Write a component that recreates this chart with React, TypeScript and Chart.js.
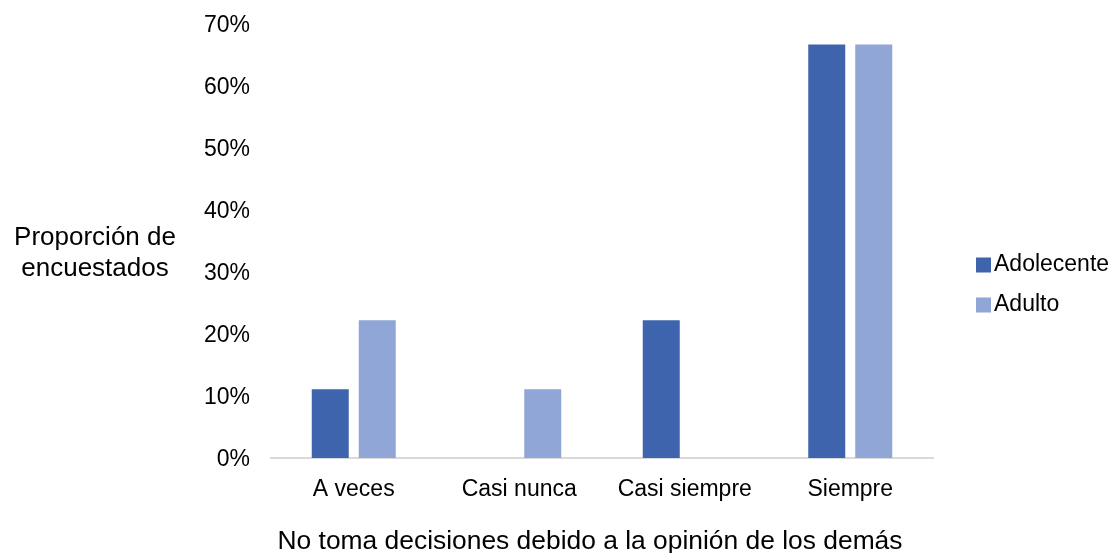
import React, { useEffect, useRef } from "react";
import { Chart, registerables } from "chart.js";

Chart.register(...registerables);

const categories = ["A veces", "Casi nunca", "Casi siempre", "Siempre"];
const seriesNames = ["Adolecente", "Adulto"];
const adolescenteValues = [11.1, 0, 22.2, 66.7];
const adultoValues = [22.2, 11.1, 0, 66.7];
const seriesColors = ["#3D64AD", "#8FA6D6"];
const yTitleLines = ["Proporción de", "encuestados"];
const xTitle = "No toma decisiones debido a la opinión de los demás";
const yMax = 70;
const yStep = 10;

const FONT = "'Liberation Sans', Arial, sans-serif";

const overlayPlugin = {
  id: "overlay",
  afterDraw(chart: any) {
    const ctx = chart.ctx;
    ctx.save();
    ctx.fillStyle = "#000000";
    // y title (horizontal, two lines)
    ctx.font = `26px ${FONT}`;
    ctx.textAlign = "center";
    ctx.textBaseline = "middle";
    yTitleLines.forEach((line, i) => {
      ctx.fillText(line, 95, 238 + i * 31);
    });
    // x title
    ctx.font = `26.4px ${FONT}`;
    ctx.fillText(xTitle, 590, 542);
    // legend
    ctx.font = `23px ${FONT}`;
    ctx.textAlign = "left";
    chart.data.datasets.forEach((ds: any, i: number) => {
      const cy = 265 + i * 40;
      ctx.fillStyle = ds.backgroundColor;
      ctx.fillRect(976, cy - 7.5, 15, 15);
      ctx.fillStyle = "#000000";
      ctx.fillText(ds.label, 994, cy);
    });
    ctx.restore();
  },
};

export default function App() {
  const canvasRef = useRef<HTMLCanvasElement | null>(null);

  useEffect(() => {
    if (!canvasRef.current) return;
    const chart = new Chart(canvasRef.current, {
      type: "bar",
      data: {
        labels: categories,
        datasets: [
          {
            label: seriesNames[0],
            data: adolescenteValues,
            backgroundColor: seriesColors[0],
          },
          {
            label: seriesNames[1],
            data: adultoValues,
            backgroundColor: seriesColors[1],
          },
        ],
      },
      options: {
        animation: false,
        responsive: true,
        maintainAspectRatio: false,
        layout: { autoPadding: false, padding: { left: 0, right: 181, top: 24, bottom: 0 } },
        datasets: {
          bar: { categoryPercentage: 0.568, barPercentage: 0.787 },
        },
        plugins: {
          legend: { display: false },
          tooltip: { enabled: false },
          title: { display: false },
        },
        scales: {
          x: {
            grid: { display: false, drawTicks: false },
            border: { display: true, color: "#D9D9D9", width: 2 },
            ticks: {
              color: "#000000",
              font: { family: FONT, size: 23 },
              padding: 18,
              maxRotation: 0,
            },
            afterFit(scale: any) {
              scale.height = 95;
              scale.paddingLeft = 0;
              scale.paddingRight = 0;
            },
          },
          y: {
            min: 0,
            max: yMax,
            grid: { display: false, drawTicks: false },
            border: { display: false },
            ticks: {
              stepSize: yStep,
              color: "#000000",
              font: { family: FONT, size: 23 },
              padding: 21,
              labelOffset: 2,
              callback: (v: any) => `${v}%`,
            },
            afterFit(scale: any) {
              scale.width = 271;
              scale.paddingTop = 0;
              scale.paddingBottom = 0;
            },
          },
        },
      },
      plugins: [overlayPlugin],
    });
    return () => chart.destroy();
  }, []);

  return (
    <div style={{ position: "absolute", left: 0, top: 0, width: 1114, height: 553, background: "#ffffff" }}>
      <canvas ref={canvasRef} />
    </div>
  );
}
